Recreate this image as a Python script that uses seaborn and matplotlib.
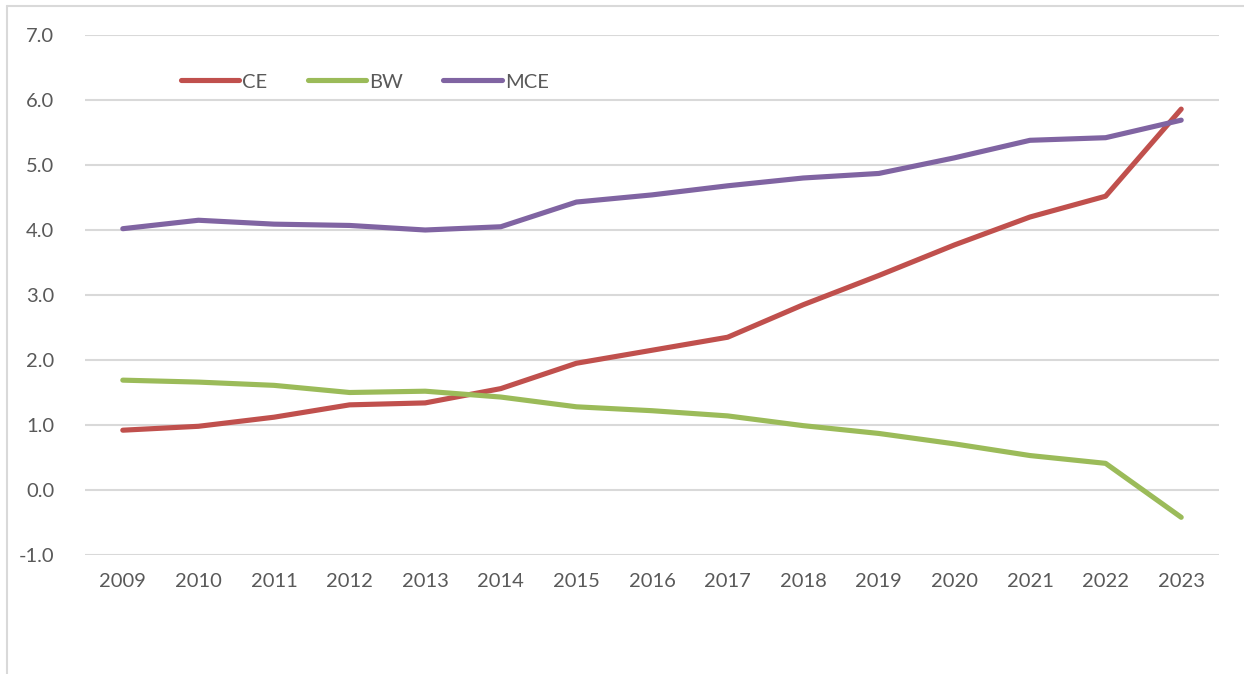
import pandas as pd
import matplotlib
import matplotlib.pyplot as plt
import seaborn as sns
from matplotlib.lines import Line2D

matplotlib.use("Agg")

# Datos
years = list(range(2009, 2024))
ce = [0.92, 0.98, 1.12, 1.31, 1.34, 1.56, 1.95, 2.15, 2.35, 2.85, 3.30, 3.77, 4.20, 4.52, 5.86]
bw = [1.69, 1.66, 1.61, 1.50, 1.52, 1.43, 1.28, 1.22, 1.14, 0.99, 0.87, 0.71, 0.53, 0.41, -0.42]
mce = [4.02, 4.15, 4.09, 4.07, 4.00, 4.05, 4.43, 4.54, 4.68, 4.80, 4.87, 5.11, 5.38, 5.42, 5.69]

series_names = ["CE", "BW", "MCE"]
colors = {"CE": "#C0504D", "BW": "#9BBB59", "MCE": "#8064A2"}
y_ticks = [-1, 0, 1, 2, 3, 4, 5, 6, 7]

df = pd.DataFrame({"Year": years, "CE": ce, "BW": bw, "MCE": mce})
df_long = df.melt(id_vars="Year", var_name="Serie", value_name="Valor")

sns.set_theme(style="white")
plt.rcParams["font.family"] = ["Lato", "DejaVu Sans"]

fig = plt.figure(figsize=(12.44, 6.74), dpi=100)
ax = fig.add_axes([85 / 1244, 1 - 555 / 674, (1219 - 85) / 1244, (555 - 35) / 674])

sns.lineplot(data=df_long, x="Year", y="Valor", hue="Serie", hue_order=series_names,
             palette=colors, linewidth=3.7, ax=ax, legend=False,
             solid_capstyle="round", solid_joinstyle="round", zorder=3)

ax.set_xlim(2008.5, 2023.5)
ax.set_ylim(-1, 7)
ax.set_xticks(years)
ax.set_xticklabels([str(y) for y in years])
ax.set_yticks(y_ticks)
ax.set_yticklabels([f"{v:.1f}" for v in y_ticks])
ax.set_xlabel("")
ax.set_ylabel("")
ax.grid(axis="y", color="#D9D9D9", linewidth=1.5)
ax.grid(axis="x", visible=False)
for s in ax.spines.values():
    s.set_visible(False)
ax.tick_params(axis="both", length=0, labelsize=14.5, labelcolor="#595959")
ax.tick_params(axis="x", pad=13)
ax.tick_params(axis="y", pad=22)

handles = [Line2D([0], [0], color=colors[n], linewidth=3.7, solid_capstyle="round")
           for n in series_names]
fig.legend(handles, series_names, ncol=3, loc="center left",
           bbox_to_anchor=(181 / 1244, 1 - 82 / 674), frameon=False,
           fontsize=14.5, labelcolor="#595959", handlelength=2.9,
           handletextpad=0.15, columnspacing=2.0, borderpad=0, borderaxespad=0)

# Borde del área del gráfico (solo izquierda y arriba visibles)
fig.add_artist(Line2D([7 / 1244, 7 / 1244], [0, 1 - 6 / 674], transform=fig.transFigure,
                      color="#D9D9D9", linewidth=1.5))
fig.add_artist(Line2D([7 / 1244, 1], [1 - 6 / 674, 1 - 6 / 674], transform=fig.transFigure,
                      color="#D9D9D9", linewidth=1.5))

fig.savefig("out.png", dpi=100)
